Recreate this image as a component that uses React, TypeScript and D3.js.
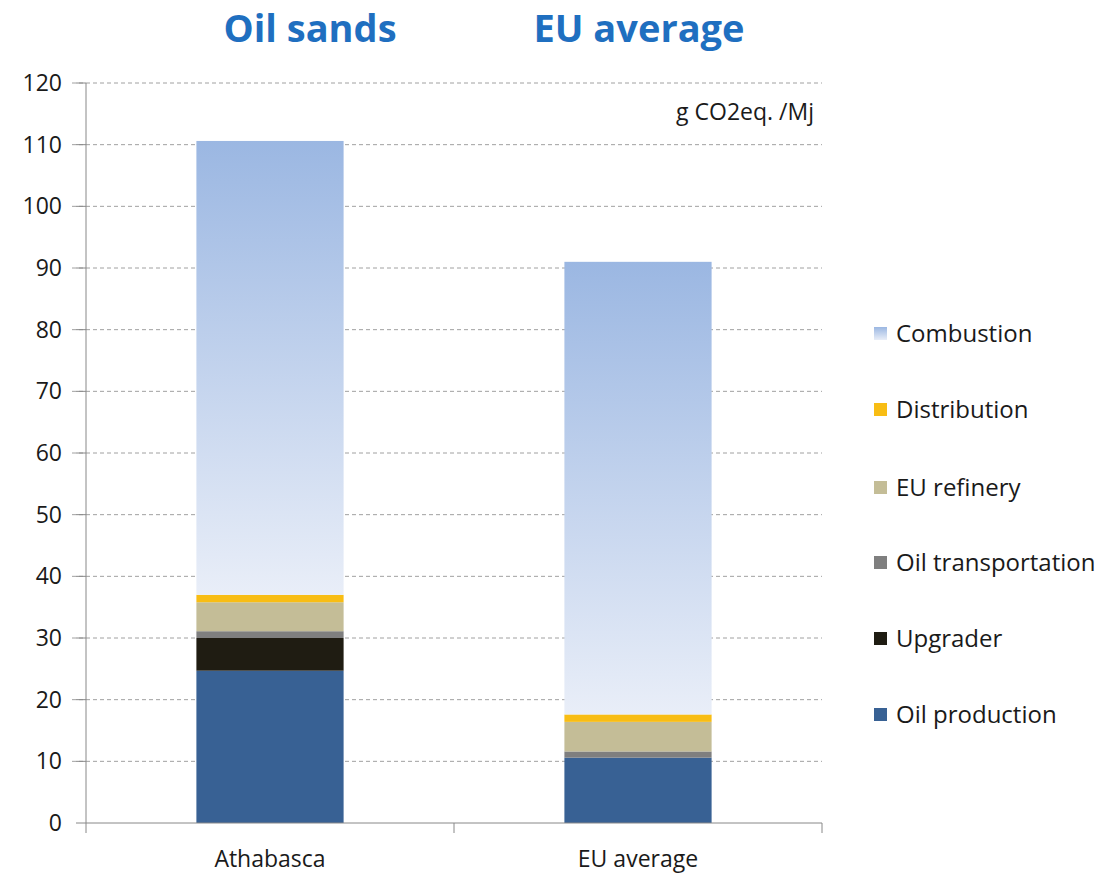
import React from "react";
import * as d3 from "d3";

const categories = ["Athabasca", "EU average"];
const seriesNames = ["Oil production", "Upgrader", "Oil transportation", "EU refinery", "Distribution", "Combustion"];
const oilProduction = [24.7, 10.6];
const upgrader = [5.3, 0];
const oilTransportation = [1.1, 1.0];
const euRefinery = [4.7, 4.8];
const distribution = [1.2, 1.2];
const combustion = [73.6, 73.4];
const yTicks = [0, 10, 20, 30, 40, 50, 60, 70, 80, 90, 100, 110, 120];
const titles = ["Oil sands", "EU average"];

const colors = ["#386194", "#1f1c12", "#7f7f7f", "#c4bd97", "#f8bd14", "url(#combGrad)"];

export default function App() {
  const W = 1104, H = 875;
  const left = 86, right = 822, top = 83, bottom = 823;
  const y = d3.scaleLinear().domain([0, 120]).range([bottom, top]);
  const x = d3.scaleBand().domain(categories).range([left, right]).paddingInner(0).paddingOuter(0);
  const barW = x.bandwidth() * 0.4;
  const data = categories.map((c, i) => {
    const row: any = { cat: c };
    row[seriesNames[0]] = oilProduction[i];
    row[seriesNames[1]] = upgrader[i];
    row[seriesNames[2]] = oilTransportation[i];
    row[seriesNames[3]] = euRefinery[i];
    row[seriesNames[4]] = distribution[i];
    row[seriesNames[5]] = combustion[i];
    return row;
  });
  const stack = d3.stack().keys(seriesNames)(data as any);
  const font = "Open Sans, sans-serif";
  const legendYs = [715, 639, 563, 488, 410, 334];

  return (
    <svg width={W} height={H} style={{ position: "absolute", left: 0, top: 0, background: "#fff" }}>
      <defs>
        <linearGradient id="combGrad" x1="0" y1="0" x2="0" y2="1">
          <stop offset="0%" stopColor="#9bb7e2" />
          <stop offset="100%" stopColor="#e9eef8" />
        </linearGradient>
        <linearGradient id="legGrad" x1="0" y1="0" x2="0" y2="1">
          <stop offset="0%" stopColor="#9bb7e2" />
          <stop offset="100%" stopColor="#e9eef8" />
        </linearGradient>
      </defs>
      {yTicks.map((t) => (
        <g key={t}>
          {t > 0 && (
            <line x1={72} x2={right} y1={y(t)} y2={y(t)} stroke="#a0a0a0" strokeWidth={1} strokeDasharray="4,3" />
          )}
          <line x1={76} x2={left} y1={y(t)} y2={y(t)} stroke="#888" />
          <text x={62} y={y(t)} dy="0.35em" textAnchor="end" fontFamily={font} fontSize={23} fill="#1a1a1a">{t}</text>
        </g>
      ))}
      {stack.map((s, si) => (
        <g key={si} fill={colors[si]}>
          {s.map((d, i) => (
            d[1] - d[0] > 0 ? (
              <rect key={i} x={(x(categories[i]) as number) + (x.bandwidth() - barW) / 2} width={barW}
                y={y(d[1])} height={y(d[0]) - y(d[1])} />
            ) : null
          ))}
        </g>
      ))}
      <line x1={left} x2={left} y1={top} y2={bottom} stroke="#888" />
      <line x1={left} x2={right} y1={bottom} y2={bottom} stroke="#888" />
      {[left, left + x.bandwidth(), right].map((p, i) => (
        <line key={i} x1={p} x2={p} y1={bottom} y2={bottom + 10} stroke="#888" />
      ))}
      {categories.map((c) => (
        <text key={c} x={(x(c) as number) + x.bandwidth() / 2} y={859} dy="0.35em" textAnchor="middle" fontFamily={font} fontSize={23} fill="#1a1a1a">{c}</text>
      ))}
      <text x={814} y={112} dy="0.35em" textAnchor="end" fontFamily={font} fontSize={23} fill="#1a1a1a">g CO2eq. /Mj</text>
      {titles.map((t, i) => (
        <text key={t} x={i === 0 ? 310 : 639} y={42} textAnchor="middle" fontFamily={font} fontWeight="bold" fontSize={38} fill="#1f6fc0">{t}</text>
      ))}
      {seriesNames.map((n, i) => (
        <g key={n}>
          <rect x={874} y={legendYs[i] - 7} width={13} height={13} fill={i === 5 ? "url(#legGrad)" : colors[i]} />
          <text x={896} y={legendYs[i]} dy="0.35em" fontFamily={font} fontSize={24} fill="#1a1a1a">{n}</text>
        </g>
      ))}
    </svg>
  );
}
